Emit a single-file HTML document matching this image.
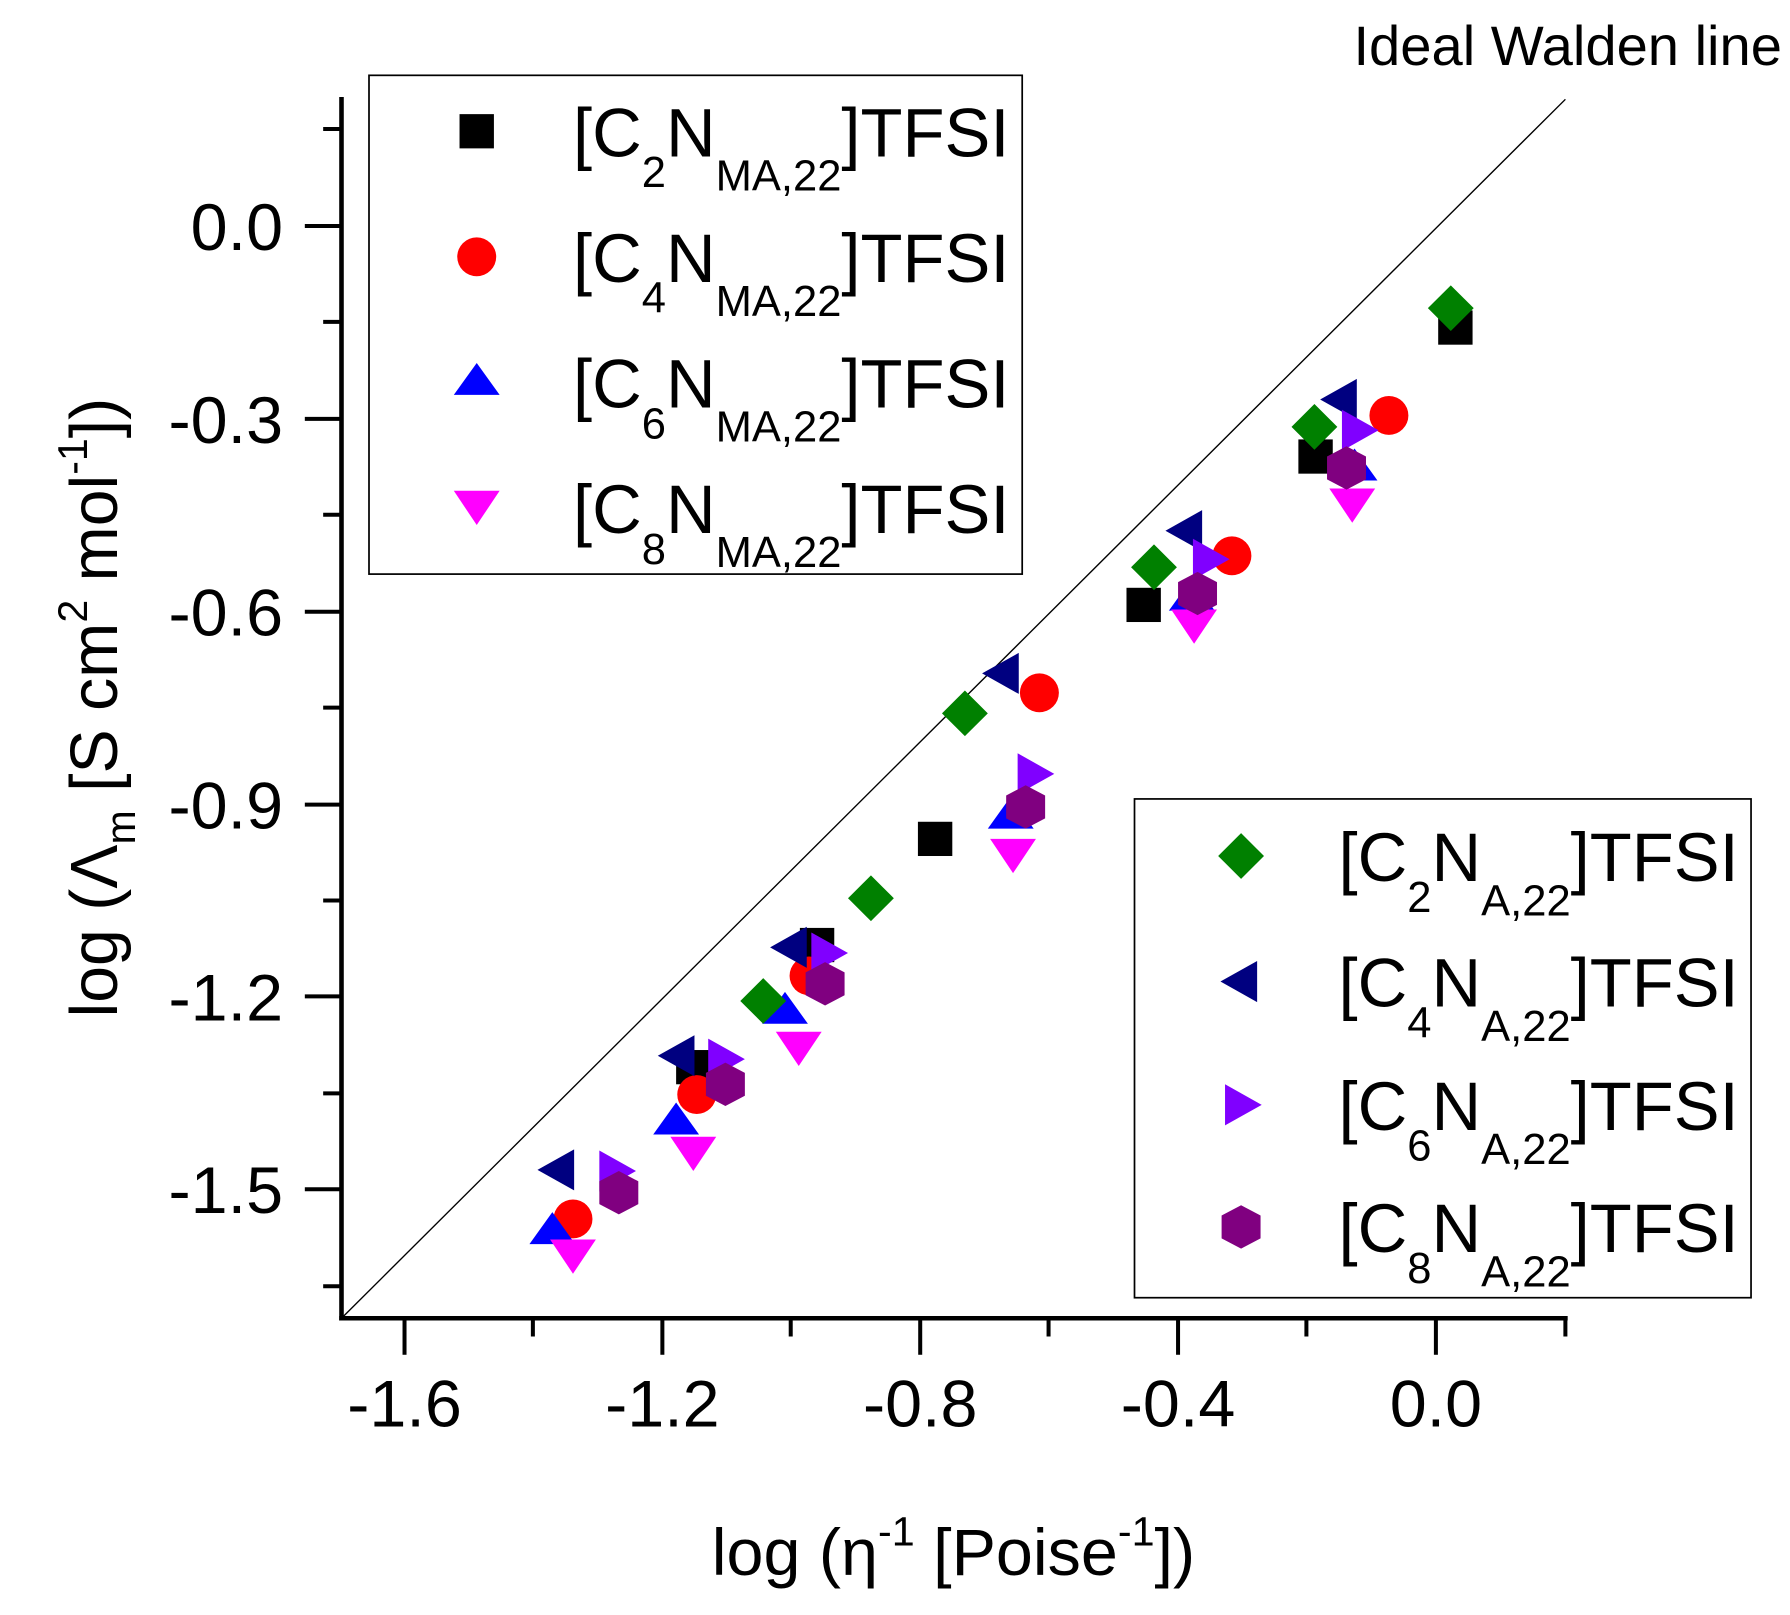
<!DOCTYPE html>
<html><head><meta charset="utf-8"><style>
html,body{margin:0;padding:0;background:#fff;}
svg{display:block;}
text{font-family:"Liberation Sans",Arial,sans-serif;fill:#000;}
</style></head><body>
<svg width="1790" height="1615" viewBox="0 0 1562 1415" preserveAspectRatio="none" xmlns="http://www.w3.org/2000/svg">
<rect width="1562" height="1415" fill="#fff"/>
<line x1="298" y1="1155" x2="1366" y2="87" stroke="#000" stroke-width="1.2"/>
<text x="1555" y="57" font-size="49" text-anchor="end">Ideal Walden line</text>
<g stroke="#000" stroke-width="4" fill="none">
<line x1="298" y1="85" x2="298" y2="1157"/>
<line x1="296" y1="1155" x2="1368" y2="1155"/>
</g>
<g stroke="#000" stroke-width="3.5">
<line x1="353" y1="1155" x2="353" y2="1187"/>
<line x1="578" y1="1155" x2="578" y2="1187"/>
<line x1="803" y1="1155" x2="803" y2="1187"/>
<line x1="1028" y1="1155" x2="1028" y2="1187"/>
<line x1="1253" y1="1155" x2="1253" y2="1187"/>
<line x1="465" y1="1155" x2="465" y2="1171"/>
<line x1="690" y1="1155" x2="690" y2="1171"/>
<line x1="915" y1="1155" x2="915" y2="1171"/>
<line x1="1140" y1="1155" x2="1140" y2="1171"/>
<line x1="1366" y1="1155" x2="1366" y2="1171"/>
<line x1="266" y1="198" x2="298" y2="198"/>
<line x1="266" y1="367" x2="298" y2="367"/>
<line x1="266" y1="536" x2="298" y2="536"/>
<line x1="266" y1="705" x2="298" y2="705"/>
<line x1="266" y1="873" x2="298" y2="873"/>
<line x1="266" y1="1042" x2="298" y2="1042"/>
<line x1="282" y1="113" x2="298" y2="113"/>
<line x1="282" y1="282" x2="298" y2="282"/>
<line x1="282" y1="451" x2="298" y2="451"/>
<line x1="282" y1="620" x2="298" y2="620"/>
<line x1="282" y1="789" x2="298" y2="789"/>
<line x1="282" y1="958" x2="298" y2="958"/>
<line x1="282" y1="1127" x2="298" y2="1127"/>
</g>
<g font-size="58" text-anchor="middle">
<text x="353" y="1250">-1.6</text>
<text x="578" y="1250">-1.2</text>
<text x="803" y="1250">-0.8</text>
<text x="1028" y="1250">-0.4</text>
<text x="1253" y="1250">0.0</text>
</g>
<g font-size="58" text-anchor="end">
<text x="247" y="219">0.0</text>
<text x="247" y="388">-0.3</text>
<text x="247" y="557">-0.6</text>
<text x="247" y="726">-0.9</text>
<text x="247" y="894">-1.2</text>
<text x="247" y="1063">-1.5</text>
</g>
<text x="832" y="1380" font-size="58" text-anchor="middle">log (η<tspan font-size="36" dy="-26">-1</tspan><tspan dy="26"> [Poise</tspan><tspan font-size="36" dy="-26">-1</tspan><tspan dy="26">])</tspan></text>
<text transform="translate(102,620) rotate(-90)" font-size="58" text-anchor="middle">log (Λ<tspan font-size="36" dy="16">m</tspan><tspan dy="-16"> [S cm</tspan><tspan font-size="36" dy="-26">2</tspan><tspan dy="26"> mol</tspan><tspan font-size="36" dy="-26">-1</tspan><tspan dy="26">])</tspan></text>

<rect x="322" y="66" width="570" height="437" fill="#fff" stroke="#000" stroke-width="1.5"/>
<rect x="401" y="100" width="30" height="30" fill="#000"/>
<circle cx="416" cy="225" r="17" fill="#f00"/>
<polygon points="416,318 396,346 436,346" fill="#00f"/>
<polygon points="396,430 436,430 416,460" fill="#f0f"/>
<g font-size="60">
<text x="500" y="137">[C<tspan font-size="38" dy="27">2</tspan><tspan dy="-27">N</tspan><tspan font-size="38" dy="30">MA,22</tspan><tspan dy="-30">]TFSI</tspan></text>
<text x="500" y="247">[C<tspan font-size="38" dy="27">4</tspan><tspan dy="-27">N</tspan><tspan font-size="38" dy="30">MA,22</tspan><tspan dy="-30">]TFSI</tspan></text>
<text x="500" y="357">[C<tspan font-size="38" dy="27">6</tspan><tspan dy="-27">N</tspan><tspan font-size="38" dy="30">MA,22</tspan><tspan dy="-30">]TFSI</tspan></text>
<text x="500" y="467">[C<tspan font-size="38" dy="27">8</tspan><tspan dy="-27">N</tspan><tspan font-size="38" dy="30">MA,22</tspan><tspan dy="-30">]TFSI</tspan></text>
</g>

<rect x="990" y="700" width="538" height="437" fill="#fff" stroke="#000" stroke-width="1.5"/>
<polygon points="1083,730 1103,750 1083,770 1063,750" fill="#008000"/>
<polygon points="1065,860 1097,842 1097,878" fill="#000080"/>
<polygon points="1101,968 1069,950 1069,986" fill="#8000ff"/>
<polygon points="1083,1056 1100,1065 1100,1085 1083,1094 1066,1085 1066,1065" fill="#800080"/>
<g font-size="60">
<text x="1168" y="772">[C<tspan font-size="38" dy="27">2</tspan><tspan dy="-27">N</tspan><tspan font-size="38" dy="30">A,22</tspan><tspan dy="-30">]TFSI</tspan></text>
<text x="1168" y="882">[C<tspan font-size="38" dy="27">4</tspan><tspan dy="-27">N</tspan><tspan font-size="38" dy="30">A,22</tspan><tspan dy="-30">]TFSI</tspan></text>
<text x="1168" y="990">[C<tspan font-size="38" dy="27">6</tspan><tspan dy="-27">N</tspan><tspan font-size="38" dy="30">A,22</tspan><tspan dy="-30">]TFSI</tspan></text>
<text x="1168" y="1097">[C<tspan font-size="38" dy="27">8</tspan><tspan dy="-27">N</tspan><tspan font-size="38" dy="30">A,22</tspan><tspan dy="-30">]TFSI</tspan></text>
</g>

<defs>
<rect id="sq" x="-15" y="-15" width="30" height="30" fill="#000"/>
<circle id="ci" r="17" fill="#f00"/>
<polygon id="tu" points="0,-16 -20,12 20,12" fill="#00f"/>
<polygon id="td" points="-20,-12 20,-12 0,18" fill="#f0f"/>
<polygon id="di" points="0,-20 20,0 0,20 -20,0" fill="#008000"/>
<polygon id="tl" points="-18,0 14,-18 14,18" fill="#000080"/>
<polygon id="tr" points="18,0 -14,-18 -14,18" fill="#8000ff"/>
<polygon id="hx" points="0,-19 17,-10 17,10 0,19 -17,10 -17,-10" fill="#800080"/>
</defs>
<g>
<use href="#sq" x="1270" y="287"/><use href="#sq" x="1148" y="400"/><use href="#sq" x="998" y="530"/><use href="#sq" x="816" y="735"/><use href="#sq" x="713" y="828"/><use href="#sq" x="605" y="935"/>
<use href="#ci" x="1212" y="364"/><use href="#ci" x="1075" y="487"/><use href="#ci" x="907" y="607"/><use href="#ci" x="706" y="855"/><use href="#ci" x="608" y="959"/><use href="#ci" x="500" y="1068"/>
<use href="#tu" x="1182" y="409"/><use href="#tu" x="1040" y="523"/><use href="#tu" x="882" y="714"/><use href="#tu" x="685" y="885"/><use href="#tu" x="590" y="982"/><use href="#tu" x="482" y="1078"/>
<use href="#td" x="1180" y="440"/><use href="#td" x="1042" y="546"/><use href="#td" x="884" y="747"/><use href="#td" x="697" y="916"/><use href="#td" x="605" y="1008"/><use href="#td" x="500" y="1098"/>
<use href="#di" x="1266" y="270"/><use href="#di" x="1147" y="374"/><use href="#di" x="1007" y="497"/><use href="#di" x="842" y="625"/><use href="#di" x="760" y="787"/><use href="#di" x="666" y="877"/>
<use href="#tl" x="1170" y="350"/><use href="#tl" x="1035" y="465"/><use href="#tl" x="875" y="590"/><use href="#tl" x="690" y="830"/><use href="#tl" x="592" y="925"/><use href="#tl" x="487" y="1025"/>
<use href="#tr" x="1185" y="377"/><use href="#tr" x="1055" y="490"/><use href="#tr" x="902" y="678"/><use href="#tr" x="722" y="835"/><use href="#tr" x="632" y="928"/><use href="#tr" x="537" y="1026"/>
<use href="#hx" x="1175" y="410"/><use href="#hx" x="1045" y="520"/><use href="#hx" x="895" y="707"/><use href="#hx" x="720" y="862"/><use href="#hx" x="633" y="950"/><use href="#hx" x="540" y="1045"/>
</g>
</svg>
</body></html>
